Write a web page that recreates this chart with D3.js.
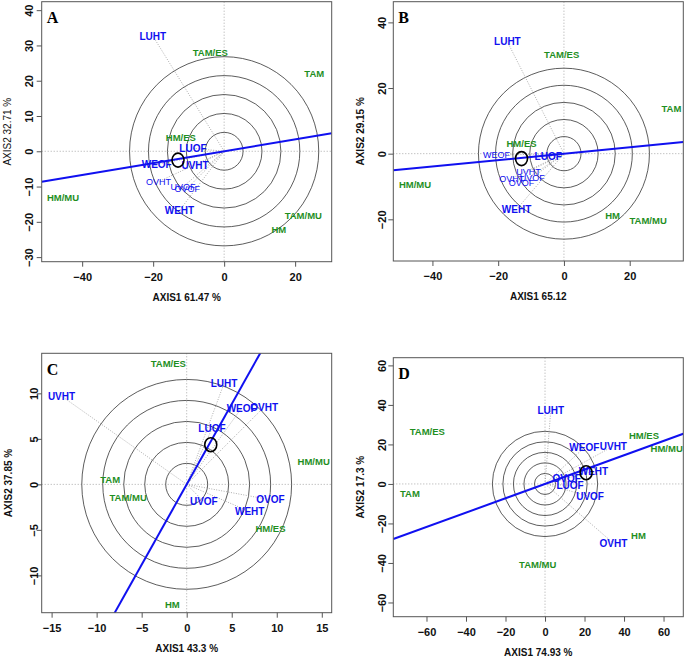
<!DOCTYPE html>
<html><head><meta charset="utf-8">
<script src="https://cdn.jsdelivr.net/npm/d3@7"></script>
<style>body{margin:0;background:#fff}svg{display:block}</style>
</head><body>
<script>
// ---------- data ----------
const panelIds = ["A", "B", "C", "D"];
const xTitles = ["AXIS1 61.47 %", "AXIS1 65.12", "AXIS1 43.3 %", "AXIS1 74.93 %"];
const yTitles = ["AXIS2 32.71 %", "AXIS2 29.15 %", "AXIS2 37.85 %", "AXIS2 17.3 %"];
const xDomains = [[-51.4, 30.3], [-51.9, 36.3], [-16.1, 16.1], [-76.8, 70]];
const yDomains = [[-31.3, 42.4], [-32.7, 46.3], [-14.1, 14.4], [-67.2, 63.9]];
const xTicks = [[-40, -20, 0, 20], [-40, -20, 0, 20], [-15, -10, -5, 0, 5, 10, 15], [-60, -40, -20, 0, 20, 40, 60]];
const yTicks = [[-30, -20, -10, 0, 10, 20, 30, 40], [-20, 0, 20, 40], [-10, -5, 0, 5, 10], [-60, -40, -20, 0, 20, 40, 60]];
const circleStep = [5.33, 5.2, 2.33, 5.33];
const lineSlope = [0.168, 0.098, 1.765, 0.363];
const markX = [-13.0, -12.9, 2.67, 20.8];
const markY = [-2.5, -1.5, 4.36, 5.7];

const blueNames = ["LUHT", "LUOF", "WEOF", "UVHT", "OVHT", "UVOF", "OVOF", "WEHT"];
const blueX_A = [-20.1, -8.8, -19.0, -8.2, -18.5, -11.6, -10.4, -12.6];
const blueY_A = [32.7, 0.85, -3.7, -4.1, -8.6, -10.1, -10.5, -16.8];
const blueBold_A = [1, 1, 1, 1, 0, 0, 0, 1];
const blueX_B = [-17.2, -4.8, -20.5, -10.8, -15.9, -9.6, -12.9, -14.4];
const blueY_B = [34.1, -0.9, -0.4, -5.5, -7.5, -7.3, -8.8, -17.0];
const blueBold_B = [1, 1, 0, 0, 0, 0, 0, 1];
const blueX_C = [4.15, 2.8, 6.1, -13.9, 8.6, 1.9, 9.3, 7.0];
const blueY_C = [11.1, 6.1, 8.4, 9.7, 8.5, -1.9, -1.7, -3.0];
const blueBold_C = [1, 1, 1, 1, 1, 1, 1, 1];
const blueX_D = [2.9, 12.7, 19.9, 34.6, 34.6, 22.8, 11.0, 24.5];
const blueY_D = [37.0, -0.8, 18.4, 19.2, -30.0, -6.4, 2.9, 6.4];
const blueBold_D = [1, 1, 1, 1, 1, 1, 1, 1];

const greenNames = ["TAM/ES", "TAM", "HM/ES", "HM/MU", "TAM/MU", "HM"];
const greenX_A = [-3.9, 25.4, -12.2, -45.4, 22.3, 15.4];
const greenY_A = [27.9, 21.9, 4.0, -13.0, -18.3, -22.3];
const greenX_B = [-0.7, 32.7, -12.9, -45.3, 25.6, 14.8];
const greenY_B = [30.3, 13.6, 3.2, -9.3, -20.5, -18.9];
const greenX_C = [-2.04, -8.5, 9.3, 14.1, -6.5, -1.6];
const greenY_C = [13.3, 0.5, -4.9, 2.5, -1.4, -13.2];
const greenX_D = [-59.6, -68.4, 50.1, 61.6, -3.7, 47.3];
const greenY_D = [26.5, -5.1, 24.6, 17.7, -41.0, -26.3];

// ---------- layout ----------
const boxes = [
  {l: 41.7, r: 331.7, t: 1.7, b: 261.7, ytl: 12.4, yti: 34.4},
  {l: 393.3, r: 683.3, t: 1.7, b: 261, ytl: 11.7, yti: 33.3},
  {l: 41.7, r: 331.7, t: 353.3, b: 612.7, ytl: 8, yti: 33.4},
  {l: 393.3, r: 683.3, t: 357.7, b: 616.7, ytl: 11.7, yti: 33.3}
];
const yTitleBold = [false, true, true, true];
const blueX = [blueX_A, blueX_B, blueX_C, blueX_D];
const blueY = [blueY_A, blueY_B, blueY_C, blueY_D];
const blueBold = [blueBold_A, blueBold_B, blueBold_C, blueBold_D];
const greenX = [greenX_A, greenX_B, greenX_C, greenX_D];
const greenY = [greenY_A, greenY_B, greenY_C, greenY_D];

const SANS = "'Liberation Sans', Arial, sans-serif";
const BLUE = "#1010f0", GREEN = "#1f8f1f";

const svg = d3.select("body").append("svg").attr("width", 685).attr("height", 661)
  .style("font-family", SANS);

panelIds.forEach((id, i) => {
  const bx = boxes[i];
  const x = d3.scaleLinear().domain(xDomains[i]).range([bx.l, bx.r]);
  const y = d3.scaleLinear().domain(yDomains[i]).range([bx.b, bx.t]);
  const g = svg.append("g");
  const clipId = "clip" + id;
  g.append("clipPath").attr("id", clipId).append("rect")
    .attr("x", bx.l).attr("y", bx.t).attr("width", bx.r - bx.l).attr("height", bx.b - bx.t);
  const inner = g.append("g").attr("clip-path", `url(#${clipId})`);

  // dotted axes through origin
  inner.append("line").attr("x1", x(0)).attr("x2", x(0)).attr("y1", bx.t).attr("y2", bx.b)
    .attr("stroke", "#aaa").attr("stroke-width", 1).attr("stroke-dasharray", "1,2");
  inner.append("line").attr("x1", bx.l).attr("x2", bx.r).attr("y1", y(0)).attr("y2", y(0))
    .attr("stroke", "#aaa").attr("stroke-width", 1).attr("stroke-dasharray", "1,2");

  // concentric circles
  inner.selectAll("circle.ring").data(d3.range(1, 6)).join("circle").attr("class", "ring")
    .attr("cx", x(0)).attr("cy", y(0))
    .attr("r", k => x(k * circleStep[i]) - x(0))
    .attr("fill", "none").attr("stroke", "#333").attr("stroke-width", 0.8);

  // arrows (dotted) to blue variables
  const blue = blueNames.map((n, j) => ({n, x: blueX[i][j], y: blueY[i][j], b: blueBold[i][j]}));
  inner.selectAll("line.arrow").data(blue).join("line").attr("class", "arrow")
    .attr("x1", x(0)).attr("y1", y(0))
    .attr("x2", d => x(d.x)).attr("y2", d => y(d.y))
    .attr("stroke", "#999").attr("stroke-width", 0.8).attr("stroke-dasharray", "1,1.5");

  // blue line through origin
  const xd = xDomains[i];
  inner.append("line")
    .attr("x1", x(xd[0])).attr("y1", y(lineSlope[i] * xd[0]))
    .attr("x2", x(xd[1])).attr("y2", y(lineSlope[i] * xd[1]))
    .attr("stroke", BLUE).attr("stroke-width", 2);

  // labels
  const green = greenNames.map((n, j) => ({n, x: greenX[i][j], y: greenY[i][j]}));
  g.selectAll("text.green").data(green).join("text").attr("class", "green")
    .attr("x", d => x(d.x)).attr("y", d => y(d.y)).attr("dy", "0.36em")
    .attr("text-anchor", "middle").attr("fill", GREEN)
    .attr("font-size", 9.5).attr("font-weight", "bold").text(d => d.n);
  g.selectAll("text.blue").data(blue).join("text").attr("class", "blue")
    .attr("x", d => x(d.x)).attr("y", d => y(d.y)).attr("dy", "0.36em")
    .attr("text-anchor", "middle").attr("fill", BLUE)
    .attr("font-size", d => d.b ? 10 : 9).attr("font-weight", d => d.b ? "bold" : "normal")
    .text(d => d.n);

  // circle marker
  g.append("ellipse").attr("cx", x(markX[i])).attr("cy", y(markY[i]))
    .attr("rx", 6).attr("ry", 7).attr("fill", "none").attr("stroke", "#000").attr("stroke-width", 1.6);

  // box
  g.append("rect").attr("x", bx.l).attr("y", bx.t).attr("width", bx.r - bx.l).attr("height", bx.b - bx.t)
    .attr("fill", "none").attr("stroke", "#555").attr("stroke-width", 1);

  // axes
  const fmt = d3.format("d");
  const ax = g.append("g").attr("transform", `translate(0,${bx.b})`)
    .call(d3.axisBottom(x).tickValues(xTicks[i]).tickSize(5).tickSizeOuter(0).tickPadding(6.5).tickFormat(fmt));
  const ay = g.append("g").attr("transform", `translate(${bx.l},0)`)
    .call(d3.axisLeft(y).tickValues(yTicks[i]).tickSize(5).tickSizeOuter(0).tickFormat(fmt));
  [ax, ay].forEach(a => {
    a.select(".domain").remove();
    a.selectAll("line").attr("stroke", "#555");
    a.selectAll("text").attr("font-family", SANS).attr("font-size", 11).attr("font-weight", "bold").attr("fill", "#111");
  });
  ay.selectAll("text").attr("x", null).attr("dy", null)
    .attr("transform", `translate(${-bx.ytl},0) rotate(-90)`)
    .attr("text-anchor", "middle").attr("dominant-baseline", "central");

  // titles
  g.append("text").attr("x", (bx.l + bx.r) / 2).attr("y", bx.b + 35.5).attr("dy", "0.36em")
    .attr("text-anchor", "middle").attr("font-size", 10).attr("font-weight", "bold").attr("fill", "#111")
    .text(xTitles[i]);
  g.append("text").attr("transform", `translate(${bx.l - bx.yti},${(bx.t + bx.b) / 2}) rotate(-90)`)
    .attr("text-anchor", "middle").attr("dominant-baseline", "central")
    .attr("font-size", 10).attr("font-weight", yTitleBold[i] ? "bold" : "normal").attr("fill", "#111")
    .text(yTitles[i]);

  // panel letter
  g.append("text").attr("x", bx.l + 5).attr("y", bx.t + 21.5)
    .attr("font-family", "'Liberation Serif', 'Times New Roman', serif")
    .attr("font-size", 16).attr("font-weight", "bold").attr("fill", "#000").text(id);
});
</script>
</body></html>
